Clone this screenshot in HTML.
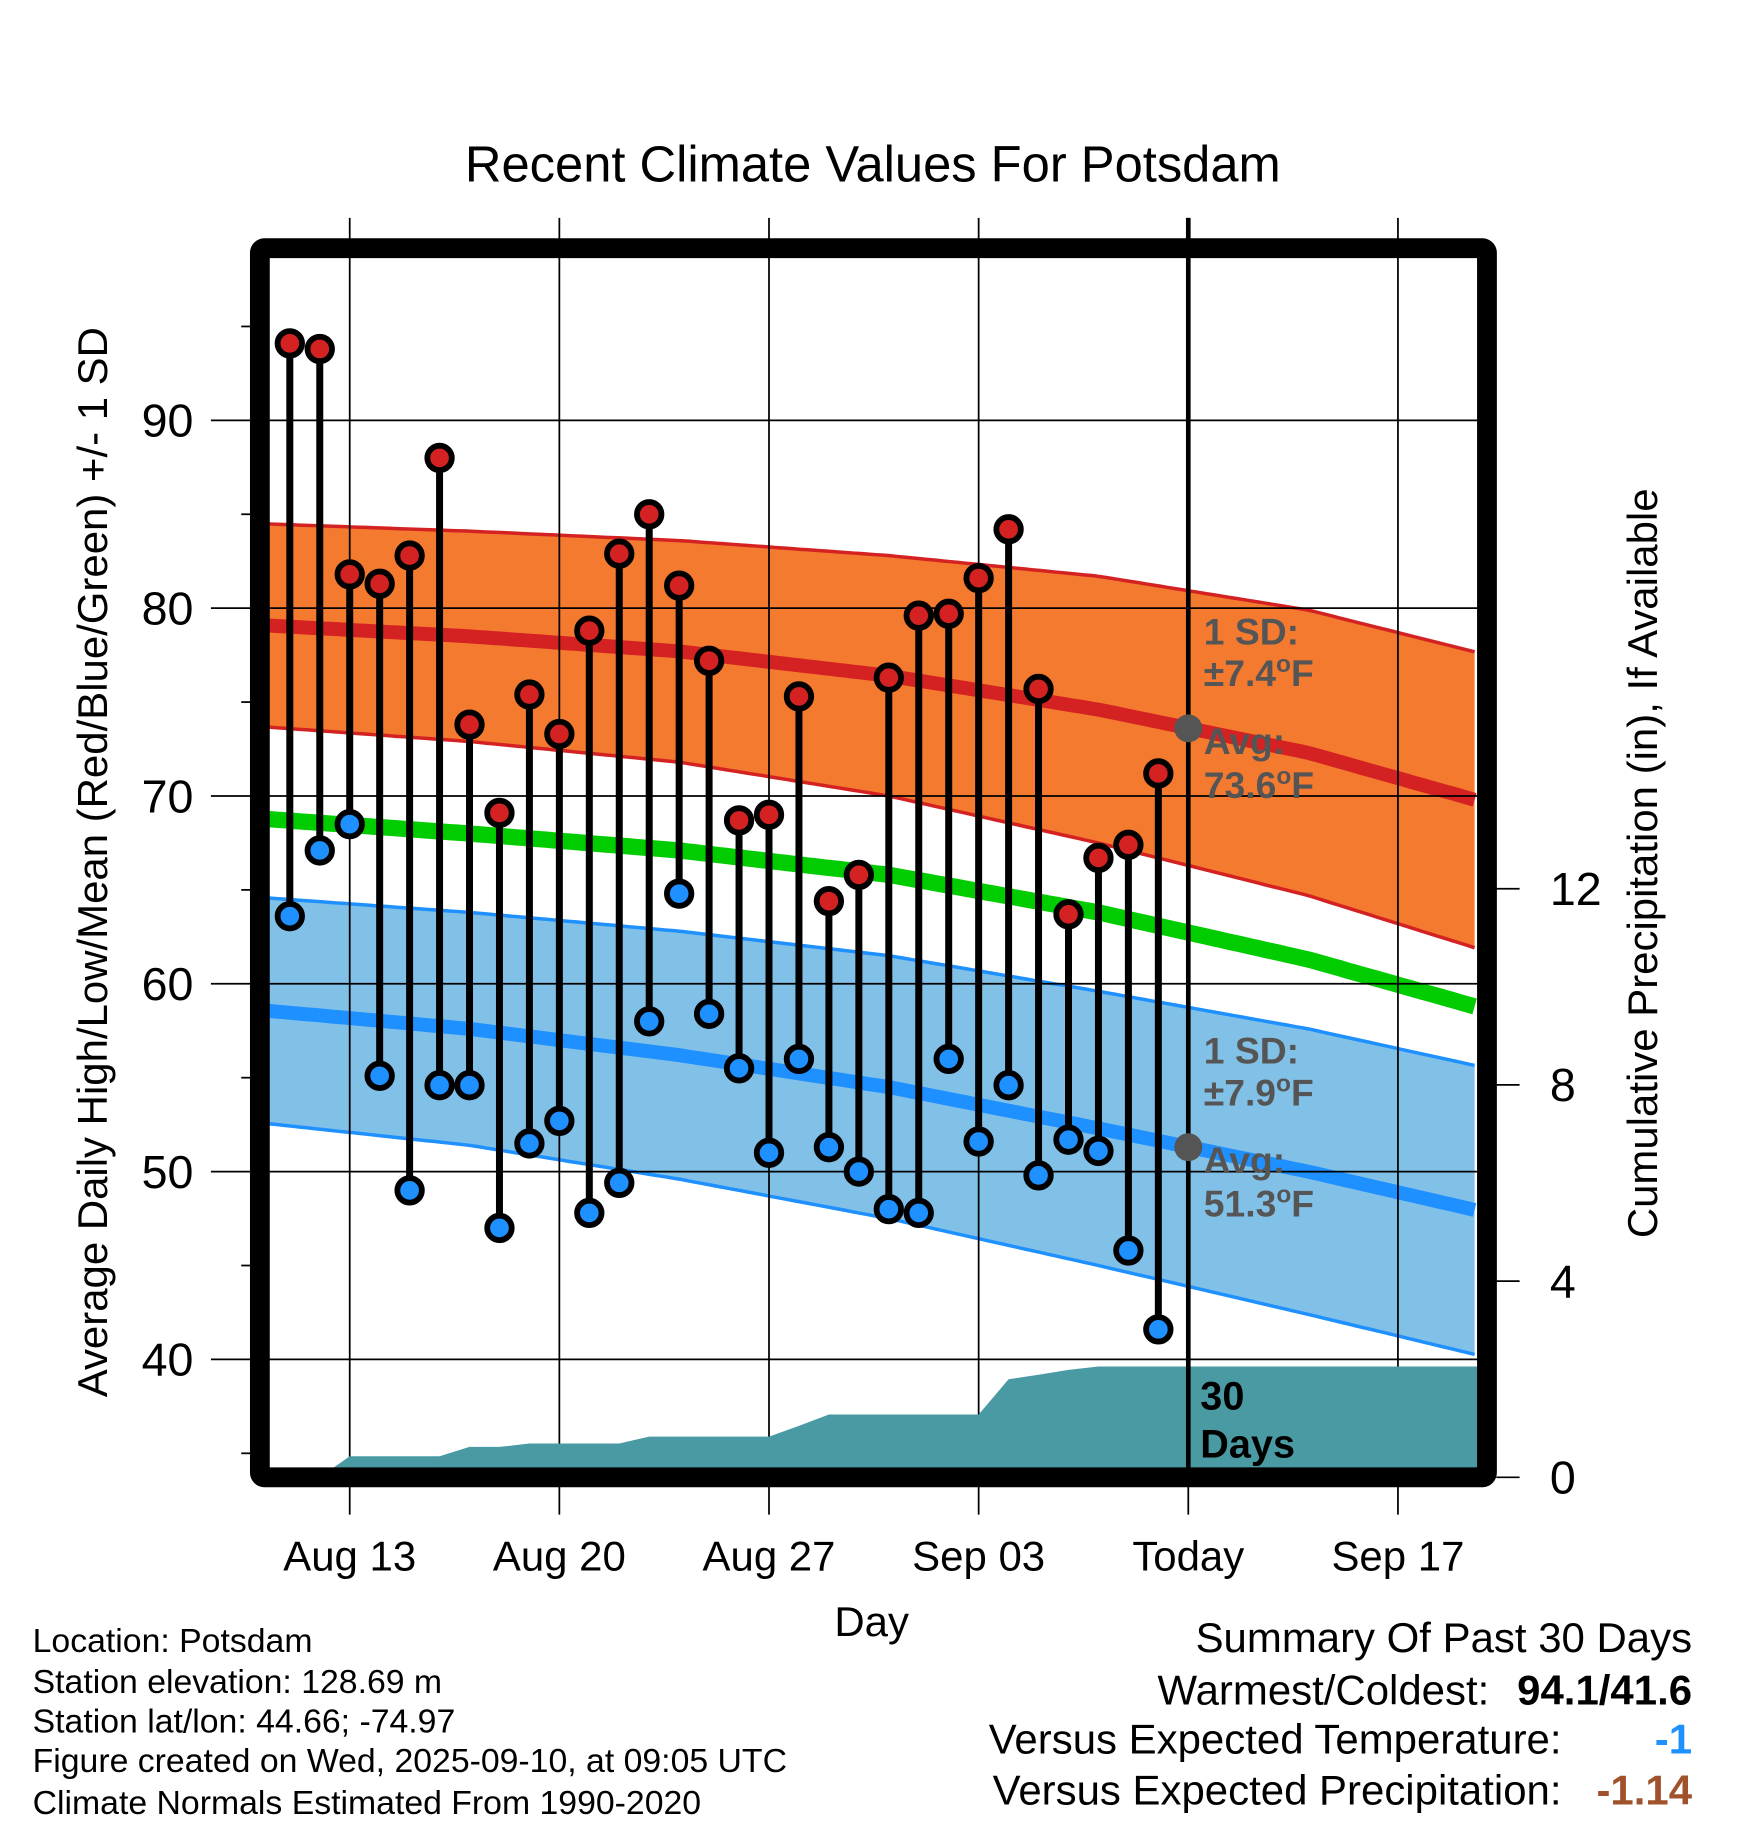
<!DOCTYPE html>
<html><head><meta charset="utf-8"><title>Recent Climate Values For Potsdam</title>
<style>
html,body{margin:0;padding:0;background:#fff;}
svg{display:block;font-family:"Liberation Sans",Arial,sans-serif;}
</style></head>
<body>
<svg id="chart" width="1748" height="1828" viewBox="0 0 1500 1569" preserveAspectRatio="none" xmlns="http://www.w3.org/2000/svg">
  <text x="749" y="156" font-size="43.5" text-anchor="middle">Recent Climate Values For Potsdam</text>
  <g id="bands"></g>
  <g id="grid"></g>
  <g id="precip"></g>
  <g id="stems"></g>
  <g id="annot"></g>
  <rect x="223" y="213" width="1053" height="1055" fill="none" stroke="#000" stroke-width="17" rx="4"/>
  <g id="axes"></g>
  <text transform="translate(92,740) rotate(-90)" font-size="36" text-anchor="middle">Average Daily High/Low/Mean (Red/Blue/Green) +/- 1 SD</text>
  <text transform="translate(1422,741) rotate(-90)" font-size="36" text-anchor="middle">Cumulative Precipitation (in), If Available</text>
  <text x="748" y="1404" font-size="36" text-anchor="middle">Day</text>
  <g font-size="29">
    <text x="28" y="1418">Location: Potsdam</text>
    <text x="28" y="1453">Station elevation: 128.69 m</text>
    <text x="28" y="1487">Station lat/lon: 44.66; -74.97</text>
    <text x="28" y="1521">Figure created on Wed, 2025-09-10, at 09:05 UTC</text>
    <text x="28" y="1557">Climate Normals Estimated From 1990-2020</text>
  </g>
  <g font-size="36">
    <text x="1452" y="1418" text-anchor="end">Summary Of Past 30 Days</text>
    <text x="1278" y="1463" text-anchor="end">Warmest/Coldest:</text>
    <text x="1452" y="1463" text-anchor="end" font-weight="bold">94.1/41.6</text>
    <text x="1340" y="1505" text-anchor="end">Versus Expected Temperature:</text>
    <text x="1452" y="1505" text-anchor="end" font-weight="bold" fill="#1e90ff">-1</text>
    <text x="1340" y="1549" text-anchor="end">Versus Expected Precipitation:</text>
    <text x="1452" y="1549" text-anchor="end" font-weight="bold" fill="#a0522d">-1.14</text>
  </g>
</svg>
<script>
// ---- data ----
const highs = [94.1,93.8,81.8,81.3,82.8,88.0,73.8,69.1,75.4,73.3,78.8,82.9,85.0,81.2,77.2,68.7,69.0,75.3,64.4,65.8,76.3,79.6,79.7,81.6,84.2,75.7,63.7,66.7,67.4,71.2];
const lows = [63.6,67.1,68.5,55.1,49.0,54.6,54.6,47.0,51.5,52.7,47.8,49.4,58.0,64.8,58.4,55.5,51.0,56.0,51.3,50.0,48.0,47.8,56.0,51.6,54.6,49.8,51.7,51.1,45.8,41.6];
const precipCum = [0,0,0.43,0.43,0.43,0.43,0.62,0.62,0.69,0.69,0.69,0.69,0.83,0.83,0.83,0.83,0.83,1.05,1.28,1.28,1.28,1.28,1.28,1.28,2.0,2.09,2.19,2.26,2.26,2.26];
const normDays = [0,7,14,21,28,35,41];
const highMean = [79.1,78.5,77.7,76.4,74.6,72.3,69.6];
const highSD = [5.4,5.6,5.9,6.4,7.1,7.6,7.9];
const lowMean = [58.6,57.6,56.2,54.5,52.3,50.0,47.8];
const lowSD = [6.0,6.2,6.6,7.0,7.3,7.6,7.7];
const meanLine = [68.8,68.0,67.1,65.8,63.8,61.3,58.6];
const yTicks = [40,50,60,70,80,90];
const yMinor = [35,45,55,65,75,85,95];
const pTicks = [0,4,8,12];
const xTickDays = [3,10,17,24,31,38];
const xTickLabels = ["Aug 13","Aug 20","Aug 27","Sep 03","Today","Sep 17"];
const firstDataDay = 1; // Aug 11
const todayDay = 31;
const highAvgToday = "73.6", lowAvgToday = "51.3", highSDToday = "7.4", lowSDToday = "7.9";

// ---- scales ----
const X = d => 223 + d*25.7;
const Y = t => 360.8 + (90-t)*16.12;
const P = p => 1268 - p*42.1;
const XL = 231, XR = 1268;
const NS='http://www.w3.org/2000/svg';
function mk(tag, parent, attrs){const e=document.createElementNS(NS,tag);for(const k in attrs)e.setAttribute(k,attrs[k]);parent.appendChild(e);return e;}
function interp(arr, d){for(let i=0;i<normDays.length-1;i++){if(d<=normDays[i+1]){const f=(d-normDays[i])/(normDays[i+1]-normDays[i]);return arr[i]+f*(arr[i+1]-arr[i]);}}return arr[arr.length-1];}
const dStart=(XL-223)/25.7, dEnd=(XR-223)/25.7;
const samp=[];for(let d=dStart;d<=dEnd+0.001;d+=0.25)samp.push(d);
function linePts(fn){return samp.map(d=>X(d).toFixed(1)+','+Y(fn(d)).toFixed(1));}

const bands=document.getElementById('bands');
function band(mean,sd,fill,edge,name){
  const top=linePts(d=>interp(mean,d)+interp(sd,d));
  const bot=linePts(d=>interp(mean,d)-interp(sd,d));
  const p=mk('polygon',bands,{points:top.concat(bot.reverse()).join(' '),fill:fill});
  
  
  const l1=mk('polyline',bands,{points:linePts(d=>interp(mean,d)+interp(sd,d)).join(' '),fill:'none',stroke:edge,'stroke-width':3});
  
  
  const l2=mk('polyline',bands,{points:linePts(d=>interp(mean,d)-interp(sd,d)).join(' '),fill:'none',stroke:edge,'stroke-width':3});
  
  
}
band(highMean,highSD,'#f47a2f','#d42222','high');
band(lowMean,lowSD,'#82c1e7','#1e90ff','low');
const hl=mk('polyline',bands,{points:linePts(d=>interp(highMean,d)).join(' '),fill:'none',stroke:'#d42222','stroke-width':12});


const ll=mk('polyline',bands,{points:linePts(d=>interp(lowMean,d)).join(' '),fill:'none',stroke:'#1e90ff','stroke-width':12});


const ml=mk('polyline',bands,{points:linePts(d=>interp(meanLine,d)).join(' '),fill:'none',stroke:'#00cc00','stroke-width':14});



// grid
const grid=document.getElementById('grid');
yTicks.forEach(t=>{const g=mk('line',grid,{x1:181,x2:XR,y1:Y(t),y2:Y(t),stroke:'#000','stroke-width':1.5});
  
  });
xTickDays.forEach(d=>{const g=mk('line',grid,{x1:X(d),x2:X(d),y1:187,y2:1300,stroke:'#000','stroke-width':1.5});
  
  });

// precip
const pr=document.getElementById('precip');
const pp=[[X(firstDataDay),P(0)]];
precipCum.forEach((v,i)=>pp.push([X(firstDataDay+i),P(v)]));
pp.push([XR,P(precipCum[precipCum.length-1])]);
pp.push([XR,1262]);pp.push([X(firstDataDay),1262]);
const pa=mk('polygon',pr,{points:pp.map(p=>p[0].toFixed(1)+','+p[1].toFixed(1)).join(' '),fill:'#4a9aa3'});



// today line (above precip)
const tl=mk('line',pr,{x1:X(todayDay),x2:X(todayDay),y1:187,y2:1268,stroke:'#000','stroke-width':4});



// stems
const st=document.getElementById('stems');
highs.forEach((h,i)=>{
  const x=X(firstDataDay+i);
  const s=mk('line',st,{x1:x,x2:x,y1:Y(h),y2:Y(lows[i]),stroke:'#000','stroke-width':6});
  
  
});
highs.forEach((h,i)=>{
  const x=X(firstDataDay+i);
  const c1=mk('circle',st,{cx:x,cy:Y(h),r:10.5,fill:'#d42222',stroke:'#000','stroke-width':5});
  
  
  const c2=mk('circle',st,{cx:x,cy:Y(lows[i]),r:10.5,fill:'#1e90ff',stroke:'#000','stroke-width':5});
  
  
});

// annotations
const an=document.getElementById('annot');
const xt=X(todayDay);
const hAvg=parseFloat(highAvgToday), lAvg=parseFloat(lowAvgToday);
const d1=mk('circle',an,{cx:xt,cy:Y(hAvg),r:12,fill:'#555'});


const d2=mk('circle',an,{cx:xt,cy:Y(lAvg),r:12,fill:'#555'});


function label(txt,y,name,color){const t=mk('text',an,{x:1033,y:y,'font-size':32,'font-weight':'bold',fill:color||'#555'});t.innerHTML=txt;
  
  }
const sup='<tspan dy="-12" font-size="21">o</tspan><tspan dy="12">F</tspan>';
label('1 SD:',553,'high-sd-label');
label('±'+highSDToday+sup,589,'high-sd-value');
label('Avg:',647,'high-avg-label');
label(highAvgToday+sup,685,'high-avg-value');
label('1 SD:',913,'low-sd-label');
label('±'+lowSDToday+sup,949,'low-sd-value');
label('Avg:',1007,'low-avg-label');
label(lowAvgToday+sup,1044,'low-avg-value');
const t30=mk('text',an,{x:1030,y:1210,'font-size':34,'font-weight':'bold'});t30.textContent='30';


const tdy=mk('text',an,{x:1030,y:1251,'font-size':34,'font-weight':'bold'});tdy.textContent='Days';



// axes
const ax=document.getElementById('axes');
yTicks.forEach(t=>{const l=mk('text',ax,{x:166,y:Y(t)+14,'font-size':40,'text-anchor':'end'});l.textContent=t;
  
  });
yMinor.forEach(t=>{const l=mk('line',ax,{x1:207,x2:216,y1:Y(t),y2:Y(t),stroke:'#000','stroke-width':1.5});
  
  });
pTicks.forEach(p=>{
  const l=mk('line',ax,{x1:1284,x2:1304,y1:P(p),y2:P(p),stroke:'#000','stroke-width':1.5});
  
  
  const t=mk('text',ax,{x:1330,y:P(p)+14,'font-size':40,'text-anchor':'start'});t.textContent=p;
  
  
});
xTickDays.forEach((d,i)=>{const t=mk('text',ax,{x:X(d),y:1348,'font-size':36,'text-anchor':'middle'});t.textContent=xTickLabels[i];
  
  });
</script>
</body></html>
